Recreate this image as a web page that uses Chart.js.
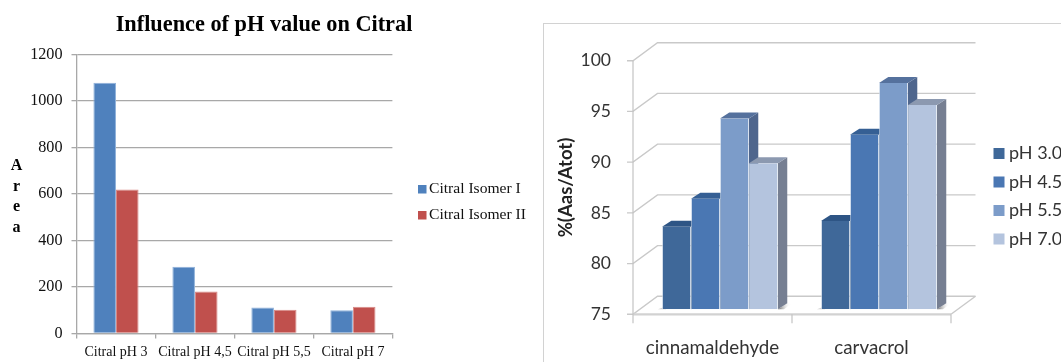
<!DOCTYPE html>
<html>
<head>
<meta charset="utf-8">
<script src="https://cdn.jsdelivr.net/npm/chart.js@4"></script>
<style>
  html, body { margin: 0; padding: 0; background: #fff; width: 1061px; height: 362px; overflow: hidden; }
  #citralBox { position: absolute; left: 0; top: 0; width: 540px; height: 362px; }
  #phBox { position: absolute; left: 543px; top: 23px; width: 518px; height: 339px; border-top: 1px solid #d2d2d2; border-left: 1px solid #d2d2d2; box-sizing: border-box; }
</style>
</head>
<body>
<div id="citralBox"><canvas id="citral" width="540" height="362"></canvas></div>
<div id="phBox"><canvas id="ph" width="517" height="338"></canvas></div>
<script>
// Left panel: peak area of the citral isomers
const citralTitle = 'Influence of pH value on Citral';
const citralAxisLetters = ['A', 'r', 'e', 'a'];
const citralCategories = ['Citral pH 3', 'Citral pH 4,5', 'Citral pH 5,5', 'Citral pH 7'];
const isomerOne = [1078, 287, 112, 100];
const isomerTwo = [619, 181, 102, 115];
const isomerNames = ['Citral Isomer I', 'Citral Isomer II'];
const isomerColors = ['#4F81BD', '#C0504D'];
const isomerEdges = ['#8FB1DA', '#D98B88'];

// Right panel: relative area by compound and pH
const compounds = ['cinnamaldehyde', 'carvacrol'];
const phNames = ['pH 3.0', 'pH 4.5', 'pH 5.5', 'pH 7.0'];
const ph30 = [83.15, 83.7];
const ph45 = [85.9, 92.2];
const ph55 = [93.8, 97.3];
const ph70 = [89.4, 95.15];
const phFront = ['#3F6899', '#4A77B3', '#7C9CC9', '#B4C4DE'];
const phTop = ['#2E5585', '#355F94', '#55719D', '#8C99B0'];
const phSide = ['#2C4E78', '#33578A', '#4F668D', '#767F92'];

const serif = '"Liberation Serif", serif';
const sans = 'Lato, "Open Sans", sans-serif';

// Title stays a regular Chart.js title, re-centred over plot plus key
const citralDecor = {
  id: 'citralDecor',
  afterLayout(chart) {
    chart.titleBlock.left = 0;
    chart.titleBlock.right = 528;
  },
  afterDraw(chart) {
    const ctx = chart.ctx;
    ctx.save();
    ctx.fillStyle = '#000';
    ctx.textBaseline = 'middle';
    ctx.textAlign = 'center';
    ctx.font = 'bold 16px ' + serif;
    citralAxisLetters.forEach((ch, i) => ctx.fillText(ch, 16.5, 166 + i * 20.6));
    ctx.textAlign = 'left';
    ctx.font = '15.6px ' + serif;
    chart.data.datasets.forEach((ds, i) => {
      const y = 189 + i * 26;
      ctx.fillStyle = ds.backgroundColor;
      ctx.fillRect(418, y - 4, 8.5, 8.5);
      ctx.fillStyle = '#111';
      ctx.fillText(ds.label, 429, y);
    });
    ctx.restore();
  }
};

new Chart(document.getElementById('citral'), {
  type: 'bar',
  data: {
    labels: citralCategories,
    datasets: [
      { label: isomerNames[0], data: isomerOne, backgroundColor: isomerColors[0], borderColor: isomerEdges[0], borderWidth: 1 },
      { label: isomerNames[1], data: isomerTwo, backgroundColor: isomerColors[1], borderColor: isomerEdges[1], borderWidth: 1 }
    ]
  },
  options: {
    responsive: false,
    animation: false,
    layout: { padding: { top: 0, right: 147.6, left: 0, bottom: 0 } },
    datasets: { bar: { categoryPercentage: 0.572, barPercentage: 1 } },
    plugins: {
      legend: { display: false },
      tooltip: { enabled: false },
      title: {
        display: true,
        text: citralTitle,
        color: '#000',
        font: { family: serif, size: 22.3, weight: 'bold', lineHeight: 1.2 },
        padding: { top: 12, bottom: 15.6 }
      }
    },
    scales: {
      x: {
        grid: { color: '#a8a8a8', lineWidth: 1.3, drawOnChartArea: false, tickLength: 5 },
        border: { color: '#a8a8a8', width: 1.3 },
        ticks: { color: '#111', font: { family: serif, size: 14 }, padding: 5, autoSkip: false, maxRotation: 0, minRotation: 0 },
        afterFit(s) { s.height = 28.5; }
      },
      y: {
        min: 0, max: 1200,
        grid: { color: '#a8a8a8', lineWidth: 1.3, tickLength: 5 },
        border: { color: '#a8a8a8', width: 1.3 },
        ticks: { color: '#111', font: { family: serif, size: 16.2 }, stepSize: 200, padding: 9, callback: v => String(v) },
        afterFit(s) { s.width = 76.5; }
      }
    }
  },
  plugins: [citralDecor]
});

// Depth of the floor and of each bar, and where the bar plane sits on the floor
const wallDX = 24.5, wallDY = -18;
const barDX = 9.3, barDY = -6;
const planeDX = 7.5, planeDY = -5;

function quad(ctx, pts, fill) {
  ctx.beginPath();
  pts.forEach((p, i) => i ? ctx.lineTo(p[0], p[1]) : ctx.moveTo(p[0], p[1]));
  ctx.closePath();
  ctx.fillStyle = fill;
  ctx.fill();
}

const depthBars = {
  id: 'depthBars',
  beforeDatasetsDraw(chart) {
    const ctx = chart.ctx, y = chart.scales.y, x = chart.scales.x;
    const a = chart.chartArea;
    ctx.save();
    ctx.lineWidth = 1.4;
    ctx.strokeStyle = '#c9c9c9';
    // back wall, left wall and tick marks for every value on the axis
    y.ticks.forEach(t => {
      const py = y.getPixelForValue(t.value);
      ctx.beginPath();
      ctx.moveTo(a.left - 6, py);
      ctx.lineTo(a.left, py);
      ctx.lineTo(a.left + wallDX, py + wallDY);
      ctx.lineTo(a.right + wallDX, py + wallDY);
      ctx.stroke();
    });
    // floor edges
    ctx.beginPath();
    ctx.moveTo(a.right, a.bottom);
    ctx.lineTo(a.right + wallDX, a.bottom + wallDY);
    ctx.stroke();
    ctx.lineWidth = 2.2;
    ctx.strokeStyle = '#d2d2d2';
    ctx.beginPath();
    ctx.moveTo(a.left, a.bottom);
    ctx.lineTo(a.right, a.bottom);
    ctx.stroke();
    // left axis and category ticks
    ctx.strokeStyle = '#c4c4c4';
    ctx.lineWidth = 1.2;
    ctx.beginPath();
    ctx.moveTo(a.left, a.top);
    ctx.lineTo(a.left, a.bottom + 9);
    const step = (a.right - a.left) / x.ticks.length;
    for (let i = 1; i <= x.ticks.length; i++) {
      ctx.moveTo(a.left + step * i, a.bottom);
      ctx.lineTo(a.left + step * i, a.bottom + 9);
    }
    ctx.stroke();

    // side and top faces go down first, left to right; the fronts are drawn over them
    ctx.translate(planeDX, planeDY);
    const metas = chart.getSortedVisibleDatasetMetas().slice().sort((m, n) => m.index - n.index);
    x.ticks.forEach((t, k) => {
      const first = metas[0].data[k].getProps(['x', 'width', 'base']);
      const last = metas[metas.length - 1].data[k].getProps(['x', 'width', 'base']);
      const r = last.x + last.width / 2, b = last.base;
      // shadow cast on the floor to the right of the group, fading out
      const fade = ctx.createLinearGradient(r, b, r + 13, b - 1);
      fade.addColorStop(0, '#5f5f5f');
      fade.addColorStop(1, 'rgba(255,255,255,0)');
      quad(ctx, [[r, b], [r + barDX, b + barDY], [r + barDX + 5, b + barDY], [r + 6, b]], fade);
      const l = first.x - first.width / 2;
      quad(ctx, [[l - 4, b], [l + 4, b - 3], [l + 4, b]], 'rgba(120,120,120,0.35)');
      metas.forEach((m, i) => {
        const p = m.data[k].getProps(['x', 'y', 'width', 'base']);
        const s = p.x - p.width / 2, e = p.x + p.width / 2;
        quad(ctx, [[e, p.y], [e + barDX, p.y + barDY], [e + barDX, p.base + barDY], [e, p.base]], phSide[i]);
        quad(ctx, [[s, p.y], [s + barDX, p.y + barDY], [e + barDX, p.y + barDY], [e, p.y]], phTop[i]);
      });
    });
  },
  afterDatasetsDraw(chart) {
    chart.ctx.restore();
    const ctx = chart.ctx;
    ctx.save();
    ctx.textBaseline = 'middle';
    ctx.textAlign = 'left';
    ctx.font = '18px ' + sans;
    chart.data.datasets.forEach((ds, i) => {
      const cy = 129.5 + i * 28.5;
      ctx.fillStyle = ds.backgroundColor;
      ctx.fillRect(449.5, cy - 5.5, 11, 11);
      ctx.fillStyle = '#333';
      ctx.fillText(ds.label, 465, cy);
    });
    ctx.restore();
  }
};

new Chart(document.getElementById('ph'), {
  type: 'bar',
  data: {
    labels: compounds,
    datasets: [ph30, ph45, ph55, ph70].map((values, i) => ({
      label: phNames[i],
      data: values,
      base: 75,
      backgroundColor: phFront[i],
      borderColor: 'rgba(226,233,243,0.75)',
      borderWidth: { left: 0.8, right: 0.8, top: 0, bottom: 0 }
    }))
  },
  options: {
    responsive: false,
    animation: false,
    layout: { padding: { top: 36.7, right: 110, left: 0, bottom: 0 } },
    datasets: { bar: { categoryPercentage: 0.729, barPercentage: 1 } },
    plugins: { legend: { display: false }, tooltip: { enabled: false }, title: { display: false } },
    scales: {
      x: {
        grid: { display: false },
        border: { display: false },
        ticks: { color: '#333', font: { family: sans, size: 18.8 }, padding: 14, autoSkip: false, maxRotation: 0, minRotation: 0 },
        afterFit(s) { s.height = 47.7; }
      },
      y: {
        min: 75, max: 100,
        grid: { display: false },
        border: { display: false },
        title: {
          display: true,
          text: '%(Aas/Atot)',
          color: '#222',
          font: { family: sans, size: 18.5, weight: 'bold', lineHeight: 1.2 },
          padding: { top: 11, bottom: 0 }
        },
        ticks: { color: '#333', font: { family: sans, size: 17.5 }, stepSize: 5, padding: 14 },
        afterFit(s) { s.width = 89; }
      }
    }
  },
  plugins: [depthBars]
});
</script>
</body>
</html>
